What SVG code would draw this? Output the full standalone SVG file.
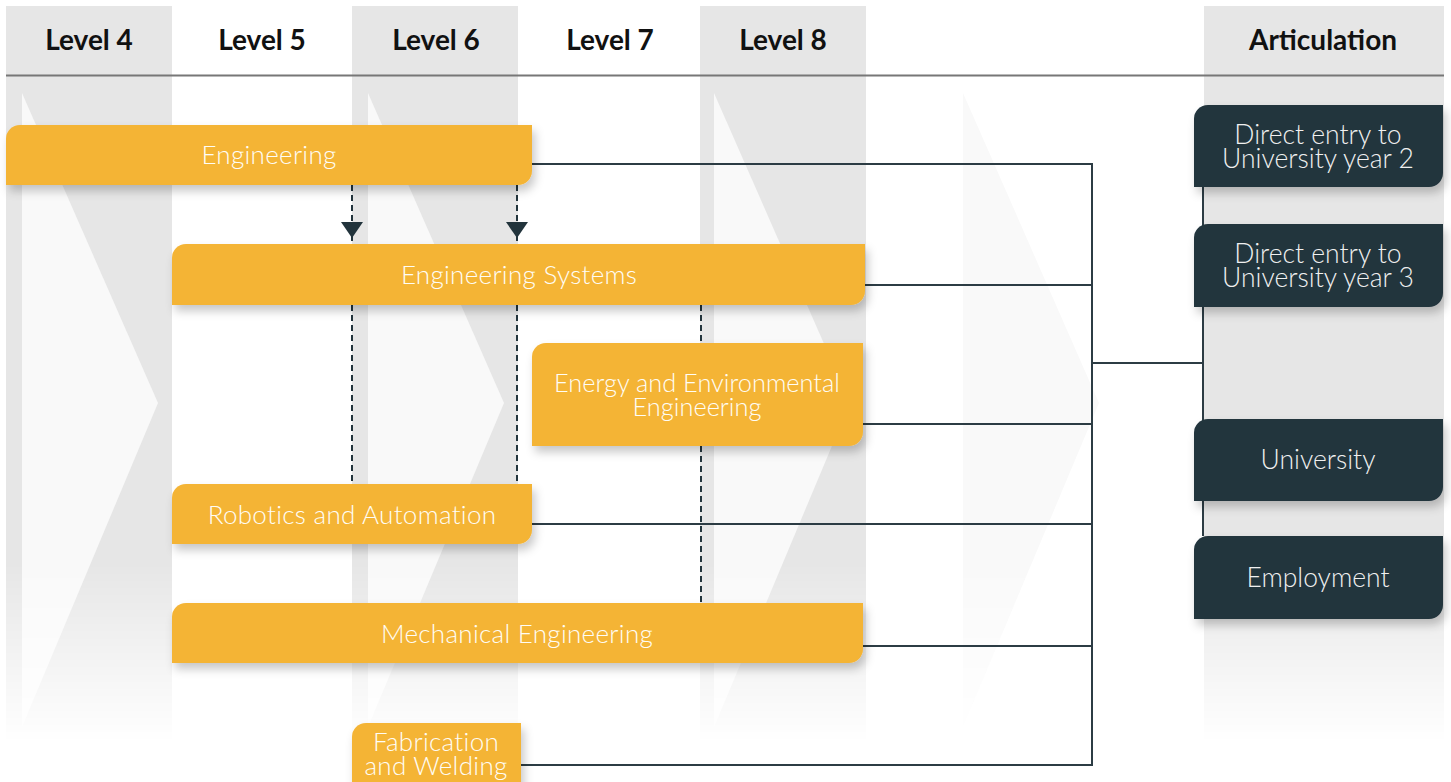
<svg xmlns="http://www.w3.org/2000/svg" width="1451" height="782" viewBox="0 0 1451 782">
<style>
.band{fill:#e6e6e6}
.chev{fill:#f9f9f9}
.hdr{font-family:Lato,"Liberation Sans",sans-serif;font-weight:700;font-size:28px;fill:#111;text-anchor:middle}
.ob{fill:#f4b436;filter:url(#sh)}
.db{fill:#22343c;filter:url(#sh)}
.ot{font-family:Lato,"Liberation Sans",sans-serif;font-weight:300;font-size:26px;letter-spacing:0.3px;fill:#fffdf5;text-anchor:middle}
.ot2{font-family:Lato,"Liberation Sans",sans-serif;font-weight:300;font-size:25.4px;fill:#fffdf5;text-anchor:middle}
.dt{font-family:Lato,"Liberation Sans",sans-serif;font-weight:300;font-size:26.5px;fill:#f0f0f0;text-anchor:middle}
.ln{fill:none;stroke:#2c3c44;stroke-width:2}
.dash{fill:none;stroke:#22343c;stroke-width:2;stroke-dasharray:6 4}
.ah{fill:#22343c}
</style>
<defs>
<filter id="sh" x="-10%" y="-30%" width="125%" height="180%">
<feDropShadow dx="3" dy="6" stdDeviation="5" flood-color="#000" flood-opacity="0.22"/>
</filter>
<linearGradient id="fade" x1="0" y1="0" x2="0" y2="782" gradientUnits="userSpaceOnUse">
<stop offset="0" stop-color="#fff"/>
<stop offset="0.72" stop-color="#fff"/>
<stop offset="0.95" stop-color="#000"/>
<stop offset="1" stop-color="#000"/>
</linearGradient>
<mask id="m" maskUnits="userSpaceOnUse" x="0" y="0" width="1451" height="782">
<rect x="0" y="0" width="1451" height="782" fill="url(#fade)"/>
</mask>
</defs>
<rect width="1451" height="782" fill="#fff"/>
<g id="background" mask="url(#m)">
<rect class="band" x="6" y="6" width="166" height="738"/>
<rect class="band" x="352" y="6" width="166" height="738"/>
<rect class="band" x="700" y="6" width="166" height="738"/>
<rect class="band" x="1204" y="6" width="240" height="738"/>
<polygon class="chev" points="22,93 158,403 22,727"/>
<polygon class="chev" points="368,93 504,403 368,727"/>
<polygon class="chev" points="714,93 850,403 714,727"/>
<polygon class="chev" points="963,93 1099,403 963,727"/>
</g>
<g id="header">
<line x1="6" y1="75.5" x2="1444" y2="75.5" stroke="#777" stroke-width="2"/>
<text class="hdr" x="89" y="50">Level 4</text>
<text class="hdr" x="262" y="50">Level 5</text>
<text class="hdr" x="436" y="50">Level 6</text>
<text class="hdr" x="610" y="50">Level 7</text>
<text class="hdr" x="783" y="50">Level 8</text>
<text class="hdr" x="1323" y="50">Articulation</text>
</g>
<g id="connectors">
<path class="ln" d="M532,164 H1092 M865,285 H1092 M863,424 H1092 M532,524 H1092 M863,646 H1092 M521,765 H1092 M1092,163 V766 M1092,363 H1203 M1203,187 V536"/>
<path class="dash" d="M352,185 V244 M352,305 V484 M517,185 V244 M517,305 V484 M701,305 V343 M701,446 V603"/>
<polygon class="ah" points="341,222 363,222 352,238"/>
<polygon class="ah" points="506,222 528,222 517,238"/>
</g>
<g id="engineering">
<path class="ob" d="M20,125 H532 V171 A14,14 0 0 1 518,185 H6 V139 A14,14 0 0 1 20,125 Z"/>
<text class="ot" x="269" y="164">Engineering</text>
</g>
<g id="engineering-systems">
<path class="ob" d="M186,244 H865 V291 A14,14 0 0 1 851,305 H172 V258 A14,14 0 0 1 186,244 Z"/>
<text class="ot" x="519" y="284">Engineering Systems</text>
</g>
<g id="energy-environmental">
<path class="ob" d="M546,343 H863 V432 A14,14 0 0 1 849,446 H532 V357 A14,14 0 0 1 546,343 Z"/>
<text class="ot2" x="697" y="392">Energy and Environmental</text>
<text class="ot2" x="697" y="416">Engineering</text>
</g>
<g id="robotics-automation">
<path class="ob" d="M186,484 H532 V530 A14,14 0 0 1 518,544 H172 V498 A14,14 0 0 1 186,484 Z"/>
<text class="ot" x="352" y="524">Robotics and Automation</text>
</g>
<g id="mechanical-engineering">
<path class="ob" d="M186,603 H863 V649 A14,14 0 0 1 849,663 H172 V617 A14,14 0 0 1 186,603 Z"/>
<text class="ot" x="517" y="643">Mechanical Engineering</text>
</g>
<g id="fabrication-welding">
<path class="ob" d="M366,723 H521 V786 A14,14 0 0 1 507,800 H352 V737 A14,14 0 0 1 366,723 Z"/>
<text class="ot" x="436" y="751">Fabrication</text>
<text class="ot" x="436" y="775">and Welding</text>
</g>
<g id="direct-entry-year-2">
<path class="db" d="M1208,105 H1443 V173 A14,14 0 0 1 1429,187 H1194 V119 A14,14 0 0 1 1208,105 Z"/>
<text class="dt" x="1318" y="144">Direct entry to</text>
<text class="dt" x="1318" y="168">University year 2</text>
</g>
<g id="direct-entry-year-3">
<path class="db" d="M1208,224 H1443 V293 A14,14 0 0 1 1429,307 H1194 V238 A14,14 0 0 1 1208,224 Z"/>
<text class="dt" x="1318" y="263">Direct entry to</text>
<text class="dt" x="1318" y="287">University year 3</text>
</g>
<g id="university">
<path class="db" d="M1208,419 H1443 V487 A14,14 0 0 1 1429,501 H1194 V433 A14,14 0 0 1 1208,419 Z"/>
<text class="dt" x="1318" y="469">University</text>
</g>
<g id="employment">
<path class="db" d="M1208,536 H1443 V605 A14,14 0 0 1 1429,619 H1194 V550 A14,14 0 0 1 1208,536 Z"/>
<text class="dt" x="1318" y="587">Employment</text>
</g>
</svg>
